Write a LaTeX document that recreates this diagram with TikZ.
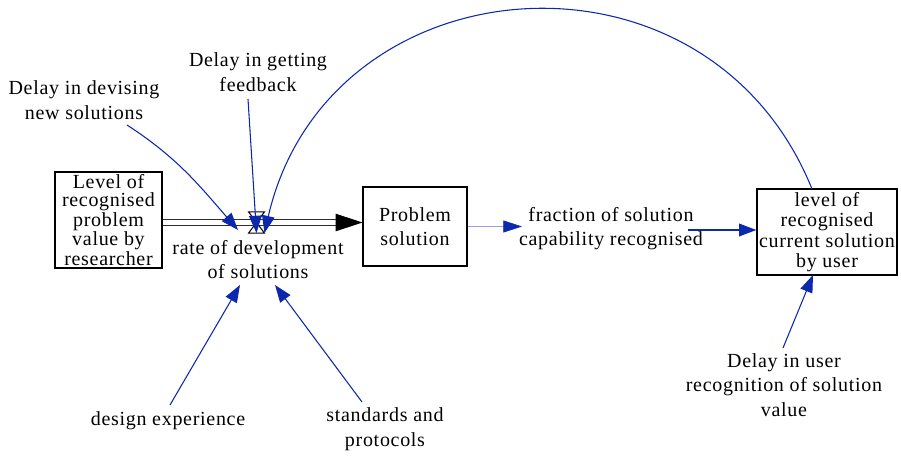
\documentclass[tikz,border=0pt]{standalone}
\usepackage{fontspec}
\setmainfont[LetterSpace=3.5]{Liberation Serif}
\usetikzlibrary{arrows.meta}
\definecolor{linkblue}{RGB}{12,40,172}
\definecolor{faintblue}{RGB}{150,160,228}
\definecolor{pipegray}{RGB}{45,45,45}
\begin{document}
\begin{tikzpicture}[x=0.75pt,y=0.75pt,
  every node/.style={font=\fontsize{15}{18.5}\selectfont, align=center, inner sep=0pt},
  stock/.style={draw, line width=0.9pt},
  link/.style={draw=linkblue, line width=0.8pt,
    -{Triangle[length=13pt,width=9.5pt,color=linkblue]}},
  pipe/.style={draw=pipegray, line width=0.9pt, double=white, double distance=3.4pt},
]
\useasboundingbox (0,0) rectangle (901,-456);

% stocks
\node[stock, minimum width=80.25pt, minimum height=72pt,
      font=\fontsize{15}{13.6}\selectfont] (researcher) at (108.5,-220)
  {Level of\\recognised\\problem\\value by\\researcher};
\node[stock, minimum width=78pt, minimum height=59.25pt] (problem) at (415,-226.5)
  {Problem\\solution};
\node[stock, minimum width=105pt, minimum height=64.5pt,
      font=\fontsize{15}{15.2}\selectfont] (user) at (827,-232)
  {level of\\recognised\\current solution\\by user};

% valve of the flow
\node[minimum width=11.5pt, minimum height=15.5pt] (valve) at (256.5,-222.5) {};

% auxiliaries and labels
\node (rate) at (258,-259.5) {rate of development\\of solutions};
\node (feedback) at (258,-72) {Delay in getting\\feedback};
\node (devising) at (84,-100) {Delay in devising\\new solutions};
\node (fraction) at (611,-228.5) {fraction of solution\\capability recognised};
\node (userdelay) at (784,-385) {Delay in user\\recognition of solution\\value};
\node (design) at (168,-421) {design experience};
\node (standards) at (385,-429) {standards and\\protocols};

% connector end points
\coordinate (pipeend) at (337,-222.5);
\coordinate (devout) at (127,-125);
\coordinate (devin) at (238,-230);
\coordinate (fbout) at (248,-99);
\coordinate (designout) at (170,-405);
\coordinate (designin) at (240,-285);
\coordinate (stdout) at (362,-402);
\coordinate (stdin) at (275,-285);
\coordinate (udout) at (783,-348);
\coordinate (udin) at (813,-275);
\coordinate (arcstart) at (812,-189);
\coordinate (fracin) at (522,-226.5);
\coordinate (fracout) at (688,-230);

% flow pipe with its head
\draw[pipe] (researcher.east |- valve.center) -- (pipeend);
\draw[line width=0.8pt, -{Triangle[length=20pt,width=13pt]}]
  ([xshift=-1pt]pipeend) -- (problem.west |- valve.center);
\draw[line width=0.8pt] (valve.north west) -- (valve.north east)
  -- (valve.south west) -- (valve.south east) -- cycle;

% information links
\draw[link] (devout) to[out=-33, in=131] (devin);
\draw[link] (fbout) -- (valve.south);
\draw[link] (arcstart) .. controls +(112:280.6) and +(77:280.6) .. (valve.south east);
\draw[link] (designout) -- (designin);
\draw[link] (stdout) -- (stdin);
\draw[link] (udout) -- (udin);
\draw[draw=faintblue, line width=0.5pt,
  -{Triangle[length=14pt,width=9pt,color=linkblue]}] (problem.east) -- (fracin);
\draw[link, line width=1pt] (fracout) -- (user.west |- fracout);
\end{tikzpicture}
\end{document}
